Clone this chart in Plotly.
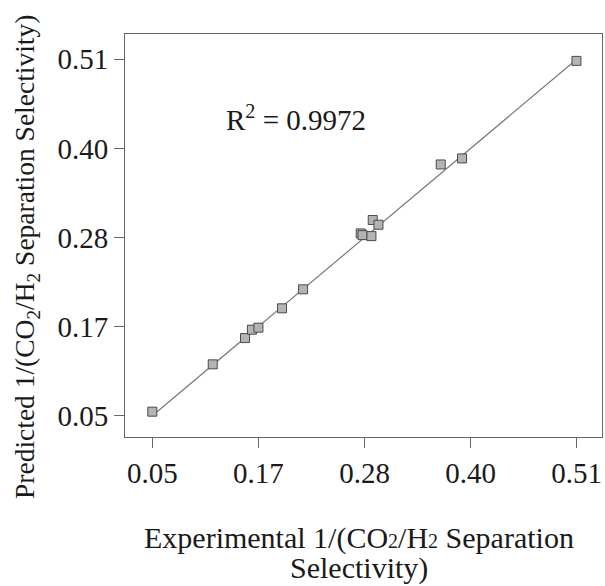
import plotly.graph_objects as go

experimental = [0.050, 0.1155, 0.1505, 0.158, 0.165, 0.1906, 0.2134, 0.2759, 0.2778, 0.2875, 0.2889, 0.2951, 0.3626, 0.3857, 0.5097]
predicted = [0.0552, 0.1163, 0.1502, 0.161, 0.1636, 0.1886, 0.2131, 0.2853, 0.2831, 0.2818, 0.3026, 0.2965, 0.3743, 0.3821, 0.508]
fit_x = [0.05, 0.51]
fit_y = [0.05, 0.51]
tick_vals = [0.05, 0.165, 0.28, 0.395, 0.51]
tick_text = ["0.05", "0.17", "0.28", "0.40", "0.51"]
r2_text = "R<sup>2</sup> = 0.9972"
r2_pos = (0.128, 0.434)

FONT = "Liberation Serif"
TXT = "#1a1a1a"

fig = go.Figure()
fig.add_trace(go.Scatter(x=fit_x, y=fit_y, mode="lines",
                         line=dict(color="#7a7a7a", width=1.2), showlegend=False))
fig.add_trace(go.Scatter(x=experimental, y=predicted, mode="markers",
                         marker=dict(symbol="square", size=9, color="#b4b4b4",
                                     line=dict(color="#4a4a4a", width=1)),
                         showlegend=False))

axis_common = dict(
    tickvals=tick_vals, ticktext=tick_text,
    showgrid=False, zeroline=False,
    showline=True, linecolor="#666666", linewidth=1, mirror=True,
    ticks="outside", ticklen=10, tickcolor="#666666", tickwidth=1,
    tickfont=dict(family=FONT, size=29, color=TXT),
)
fig.update_xaxes(range=[0.0204, 0.5374], **axis_common)
fig.update_yaxes(range=[0.0225, 0.5427], **axis_common)

fig.update_layout(
    width=605, height=586,
    margin=dict(l=125, r=3, t=34, b=149),
    plot_bgcolor="white", paper_bgcolor="white",
)

pw = 605 - 125 - 3
ph = 586 - 34 - 149
def px(xp):
    return (xp - 125) / pw
def py(yp):
    return (586 - 149 - yp) / ph

fig.add_annotation(x=r2_pos[0], y=r2_pos[1], xref="x", yref="y", text=r2_text, showarrow=False,
                   xanchor="left", yanchor="middle",
                   font=dict(family=FONT, size=29, color=TXT))

sub2 = '<span style="font-size:20px">2</span>'
fig.add_annotation(x=px(359), y=py(538), xref="paper", yref="paper",
                   text="Experimental 1/(CO" + sub2 + "/H" + sub2 + " Separation",
                   showarrow=False, xanchor="center", yanchor="middle",
                   font=dict(family=FONT, size=30, color=TXT))
fig.add_annotation(x=px(359), y=py(568), xref="paper", yref="paper",
                   text="Selectivity)",
                   showarrow=False, xanchor="center", yanchor="middle",
                   font=dict(family=FONT, size=30, color=TXT))
fig.add_annotation(x=px(26), y=py(257), xref="paper", yref="paper",
                   text="Predicted 1/(CO<sub>2</sub>/H<sub>2</sub> Separation Selectivity)",
                   showarrow=False, xanchor="center", yanchor="middle", textangle=-90,
                   font=dict(family=FONT, size=27.5, color=TXT))

fig.write_html("out.html")
